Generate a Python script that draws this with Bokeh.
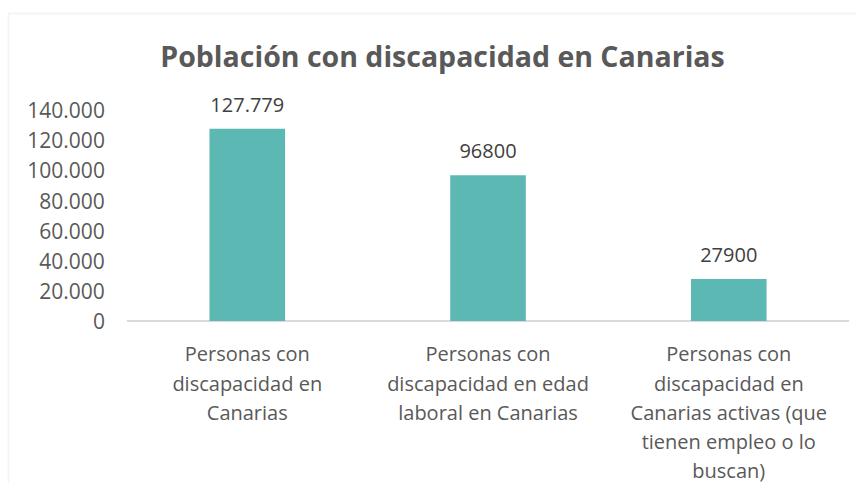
from bokeh.plotting import figure
from bokeh.models import ColumnDataSource, Range1d, LabelSet, Label, BoxAnnotation
from bokeh.core.properties import value
from bokeh.embed import file_html
from bokeh.resources import INLINE

# ---- data ----
category_lines = [
    ["Personas con", "discapacidad en", "Canarias"],
    ["Personas con", "discapacidad en edad", "laboral en Canarias"],
    ["Personas con", "discapacidad en", "Canarias activas (que", "tienen empleo o lo", "buscan)"],
]
values = [127779, 96800, 27900]
value_labels = ["127.779", "96800", "27900"]
y_ticks = [0, 20000, 40000, 60000, 80000, 100000, 120000, 140000]
y_tick_labels = ["0", "20.000", "40.000", "60.000", "80.000", "100.000", "120.000", "140.000"]
title_text = "Población con discapacidad en Canarias"

FONT_NAME = "Open Sans"
FONT = value(FONT_NAME)
TEXT = "#595959"
BAR = "#5BB8B2"
LINE = "#D9D9D9"

W, H = 856, 483
n = len(values)
xs = [i + 0.5 for i in range(n)]

p = figure(width=W, height=H,
           x_range=Range1d(-0.525, 3.0305), y_range=Range1d(-107940, 212890),
           output_backend="svg", toolbar_location=None,
           x_axis_location=None, y_axis_location=None,
           min_border=0)
p.outline_line_color = None
p.xgrid.grid_line_color = None
p.ygrid.grid_line_color = None
p.background_fill_color = "white"
p.border_fill_color = "white"

# chart-area border
p.add_layout(BoxAnnotation(left=8, right=W + 20, top=13, bottom=H + 20,
                           left_units="canvas", right_units="canvas",
                           top_units="canvas", bottom_units="canvas",
                           fill_color=None, line_color=LINE, line_width=2))

# baseline (category axis line)
p.segment(x0=[0], x1=[n], y0=[0], y1=[0], line_color=LINE, line_width=2)

src = ColumnDataSource(dict(x=xs, val=values, lab=value_labels))
p.vbar(x="x", top="val", width=0.314, source=src, fill_color=BAR, line_color=None)

p.add_layout(LabelSet(x="x", y="val", text="lab", source=src, y_offset=24,
                      text_align="center", text_baseline="middle",
                      text_font=FONT, text_font_size="20px", text_color="#404040"))

# y tick labels
tsrc = ColumnDataSource(dict(x=[0] * len(y_ticks), y=y_ticks, t=y_tick_labels))
p.add_layout(LabelSet(x="x", y="y", text="t", source=tsrc, x_offset=-22,
                      text_align="right", text_baseline="middle",
                      text_font=FONT, text_font_size="21px", text_color=TEXT))

# category labels, line by line
cx, cy, ct, co = [], [], [], []
for xv, lines in zip(xs, category_lines):
    for i, t in enumerate(lines):
        cx.append(xv); cy.append(0); ct.append(t); co.append(-(33 + 29.2 * i))
csrc = ColumnDataSource(dict(x=cx, y=cy, t=ct, o=co))
p.add_layout(LabelSet(x="x", y="y", text="t", y_offset="o", source=csrc,
                      text_align="center", text_baseline="middle",
                      text_font=FONT, text_font_size="20px", text_color=TEXT))

# title
p.add_layout(Label(x=442, y=55, x_units="canvas", y_units="canvas", text=title_text,
                   text_align="center", text_baseline="middle",
                   text_font=FONT_NAME, text_font_style="bold", text_font_size="28.5px",
                   text_color=TEXT))

open("out.html", "w").write(file_html(p, INLINE))
